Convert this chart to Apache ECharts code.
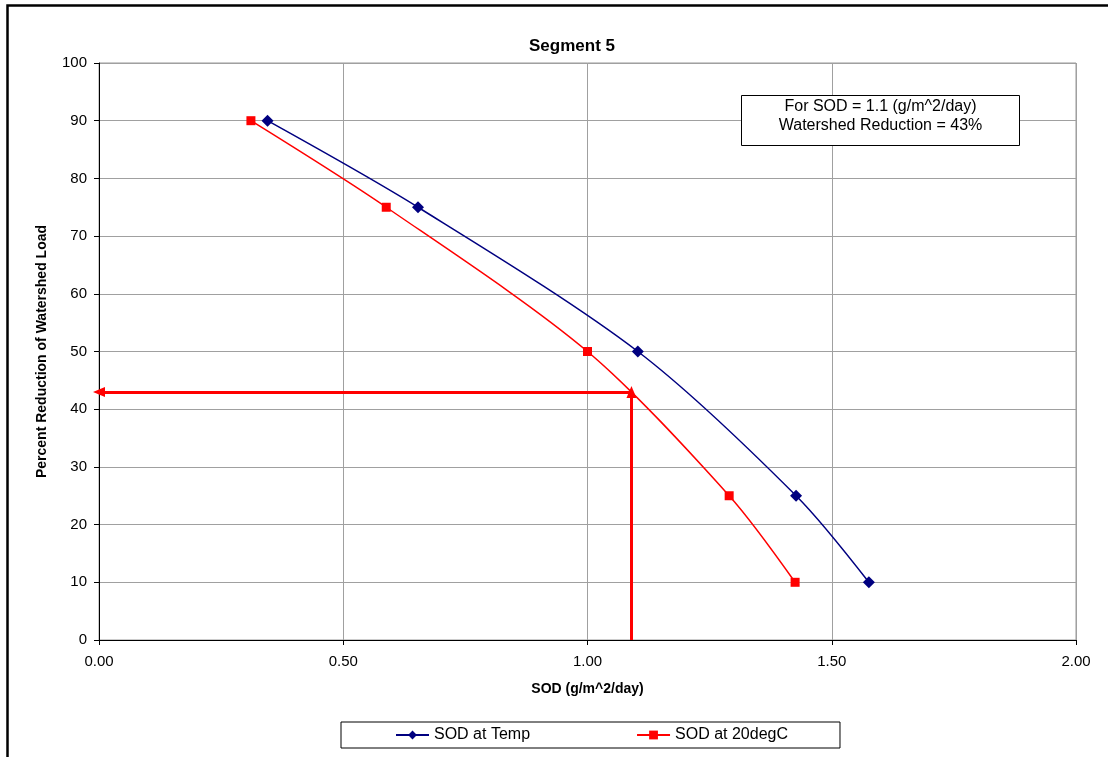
<!DOCTYPE html>
<html>
<head>
<meta charset="utf-8">
<script src="https://cdn.jsdelivr.net/npm/echarts@6/dist/echarts.min.js"></script>
<style>
  html, body { margin: 0; padding: 0; background: #fff; }
  #chart { width: 1108px; height: 757px; }
</style>
</head>
<body>
<div id="chart"></div>
<script>
// data
var reductions = [90, 75, 50, 25, 10];
var sodAtTemp = [0.345, 0.653, 1.103, 1.427, 1.576];
var sodAt20 = [0.311, 0.588, 1.0, 1.29, 1.425];
var arrowSod = 1.09;
var arrowReduction = 43;

var chartFont = 'Liberation Sans, Arial, sans-serif';

function pairs(xs, ys) {
    return xs.map(function (x, i) { return [x, ys[i]]; });
}

var SegmentChart = echarts.init(document.getElementById('chart'));

option = {
    animation: false,
    textStyle: { fontFamily: chartFont },
    title: {
        text: 'Segment 5',
        left: 567,
        textAlign: 'center',
        top: 33,
        textStyle: { fontSize: 17, fontWeight: 'bold', color: '#000', fontFamily: chartFont }
    },
    legend: {
        data: ['SOD at Temp', 'SOD at 20degC'],
        left: 341,
        top: 722,
        padding: [5, 52, 5, 54],
        itemGap: 106,
        itemWidth: 33,
        itemHeight: 11,
        borderColor: '#000',
        borderWidth: 1,
        textStyle: { fontSize: 16, color: '#000', fontFamily: chartFont }
    },
    grid: {
        left: 99,
        top: 63,
        right: 32,
        bottom: 117,
        show: true,
        borderColor: '#999',
        borderWidth: 1
    },
    xAxis: {
        type: 'value',
        min: 0,
        max: 2,
        interval: 0.5,
        name: 'SOD (g/m^2/day)',
        nameLocation: 'middle',
        nameGap: 42,
        nameTextStyle: { fontSize: 14, fontWeight: 'bold', color: '#000' },
        axisLine: { lineStyle: { color: '#000', width: 1 } },
        axisTick: { show: true, length: 5, lineStyle: { color: '#000' } },
        axisLabel: {
            margin: 14, fontSize: 15, color: '#000',
            formatter: function (v) { return v.toFixed(2); }
        },
        splitLine: { show: true, lineStyle: { color: '#a0a0a0', width: 1 } }
    },
    yAxis: {
        type: 'value',
        min: 0,
        max: 100,
        interval: 10,
        name: 'Percent Reduction of Watershed Load',
        nameLocation: 'middle',
        nameGap: 50,
        nameTextStyle: { fontSize: 14, fontWeight: 'bold', color: '#000' },
        axisLine: { show: true, lineStyle: { color: '#000', width: 1 } },
        axisTick: { show: true, length: 5, lineStyle: { color: '#000' } },
        axisLabel: { margin: 12, fontSize: 15, color: '#000' },
        splitLine: { show: true, lineStyle: { color: '#a0a0a0', width: 1 } }
    },
    series: [
        {
            name: 'SOD at Temp',
            type: 'line',
            smooth: 0.3,
            symbol: 'diamond',
            symbolSize: 12,
            data: pairs(sodAtTemp, reductions),
            lineStyle: { color: '#000080', width: 1.5 },
            itemStyle: { color: '#000080' }
        },
        {
            name: 'SOD at 20degC',
            type: 'line',
            smooth: 0.3,
            symbol: 'rect',
            symbolSize: 9,
            data: pairs(sodAt20, reductions),
            lineStyle: { color: '#ff0000', width: 1.5 },
            itemStyle: { color: '#ff0000' },
            markLine: {
                silent: true,
                symbol: ['none', 'triangle'],
                symbolSize: [10, 12],
                label: { show: false },
                lineStyle: { color: '#ff0000', width: 3, type: 'solid' },
                emphasis: { disabled: true },
                data: [
                    [{ coord: [arrowSod, 0] }, { coord: [arrowSod, arrowReduction] }],
                    [{ coord: [arrowSod, arrowReduction] }, { coord: [0, arrowReduction] }]
                ]
            }
        }
    ],
    graphic: [
        {
            type: 'rect',
            left: 5,
            top: 3,
            shape: { width: 1200, height: 800 },
            style: { fill: 'none', stroke: '#000', lineWidth: 2.5 },
            silent: true
        },
        {
            type: 'group',
            left: 741,
            top: 95,
            z: 100,
            children: [
                {
                    type: 'rect',
                    z: 100,
                    shape: { x: 0, y: 0, width: 278, height: 50 },
                    style: { fill: '#fff', stroke: '#000', lineWidth: 1 }
                },
                {
                    type: 'text',
                    z: 101,
                    x: 139,
                    y: 21,
                    style: {
                        text: 'For SOD = 1.1 (g/m^2/day)\nWatershed Reduction = 43%',
                        fontSize: 16,
                        lineHeight: 19,
                        fontFamily: chartFont,
                        fill: '#000',
                        align: 'center',
                        verticalAlign: 'middle'
                    }
                }
            ]
        }
    ]
};

SegmentChart.setOption(option);
</script>
</body>
</html>
